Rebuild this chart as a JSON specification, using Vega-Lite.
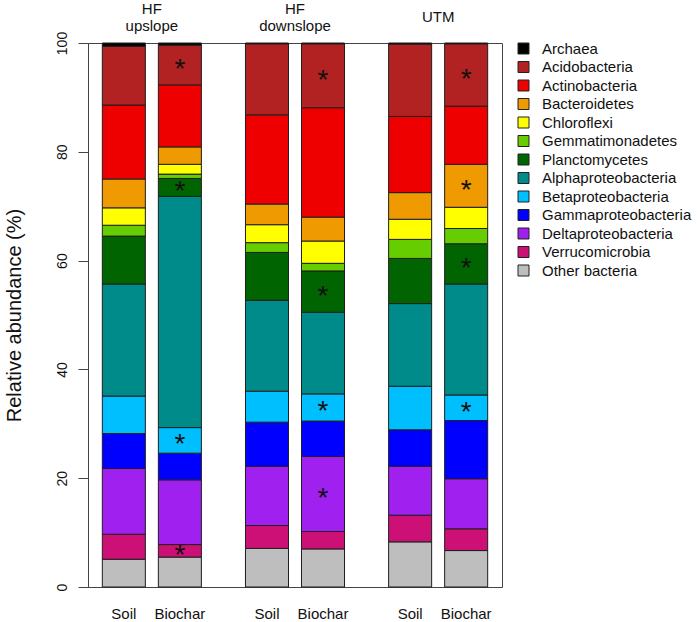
{
  "$schema": "https://vega.github.io/schema/vega-lite/v6.json",
  "width": 414,
  "height": 544,
  "autosize": {"type": "none"},
  "padding": {"left": 88, "top": 43, "right": 195, "bottom": 35},
  "background": "white",
  "config": {
    "font": "Liberation Sans",
    "view": {"stroke": "#444", "strokeWidth": 1},
    "axis": {"labelColor": "#111", "titleColor": "#111", "labelFont": "Liberation Sans", "titleFont": "Liberation Sans"}
  },
  "data": {"values": [
    {"site": "HF upslope", "treat": "Soil", "taxon": "Other bacteria", "pct": 5.1, "sig": ""},
    {"site": "HF upslope", "treat": "Soil", "taxon": "Verrucomicrobia", "pct": 4.6, "sig": ""},
    {"site": "HF upslope", "treat": "Soil", "taxon": "Deltaproteobacteria", "pct": 12.1, "sig": ""},
    {"site": "HF upslope", "treat": "Soil", "taxon": "Gammaproteobacteria", "pct": 6.4, "sig": ""},
    {"site": "HF upslope", "treat": "Soil", "taxon": "Betaproteobacteria", "pct": 6.9, "sig": ""},
    {"site": "HF upslope", "treat": "Soil", "taxon": "Alphaproteobacteria", "pct": 20.6, "sig": ""},
    {"site": "HF upslope", "treat": "Soil", "taxon": "Planctomycetes", "pct": 8.8, "sig": ""},
    {"site": "HF upslope", "treat": "Soil", "taxon": "Gemmatimonadetes", "pct": 2.0, "sig": ""},
    {"site": "HF upslope", "treat": "Soil", "taxon": "Chloroflexi", "pct": 3.2, "sig": ""},
    {"site": "HF upslope", "treat": "Soil", "taxon": "Bacteroidetes", "pct": 5.3, "sig": ""},
    {"site": "HF upslope", "treat": "Soil", "taxon": "Actinobacteria", "pct": 13.6, "sig": ""},
    {"site": "HF upslope", "treat": "Soil", "taxon": "Acidobacteria", "pct": 10.8, "sig": ""},
    {"site": "HF upslope", "treat": "Soil", "taxon": "Archaea", "pct": 0.6, "sig": ""},

    {"site": "HF upslope", "treat": "Biochar", "taxon": "Other bacteria", "pct": 5.5, "sig": ""},
    {"site": "HF upslope", "treat": "Biochar", "taxon": "Verrucomicrobia", "pct": 2.3, "sig": "*"},
    {"site": "HF upslope", "treat": "Biochar", "taxon": "Deltaproteobacteria", "pct": 11.9, "sig": ""},
    {"site": "HF upslope", "treat": "Biochar", "taxon": "Gammaproteobacteria", "pct": 4.9, "sig": ""},
    {"site": "HF upslope", "treat": "Biochar", "taxon": "Betaproteobacteria", "pct": 4.7, "sig": "*"},
    {"site": "HF upslope", "treat": "Biochar", "taxon": "Alphaproteobacteria", "pct": 42.5, "sig": ""},
    {"site": "HF upslope", "treat": "Biochar", "taxon": "Planctomycetes", "pct": 3.3, "sig": "*"},
    {"site": "HF upslope", "treat": "Biochar", "taxon": "Gemmatimonadetes", "pct": 0.8, "sig": ""},
    {"site": "HF upslope", "treat": "Biochar", "taxon": "Chloroflexi", "pct": 1.8, "sig": ""},
    {"site": "HF upslope", "treat": "Biochar", "taxon": "Bacteroidetes", "pct": 3.2, "sig": ""},
    {"site": "HF upslope", "treat": "Biochar", "taxon": "Actinobacteria", "pct": 11.4, "sig": ""},
    {"site": "HF upslope", "treat": "Biochar", "taxon": "Acidobacteria", "pct": 7.3, "sig": "*"},
    {"site": "HF upslope", "treat": "Biochar", "taxon": "Archaea", "pct": 0.4, "sig": ""},

    {"site": "HF downslope", "treat": "Soil", "taxon": "Other bacteria", "pct": 7.1, "sig": ""},
    {"site": "HF downslope", "treat": "Soil", "taxon": "Verrucomicrobia", "pct": 4.2, "sig": ""},
    {"site": "HF downslope", "treat": "Soil", "taxon": "Deltaproteobacteria", "pct": 10.9, "sig": ""},
    {"site": "HF downslope", "treat": "Soil", "taxon": "Gammaproteobacteria", "pct": 8.1, "sig": ""},
    {"site": "HF downslope", "treat": "Soil", "taxon": "Betaproteobacteria", "pct": 5.7, "sig": ""},
    {"site": "HF downslope", "treat": "Soil", "taxon": "Alphaproteobacteria", "pct": 16.7, "sig": ""},
    {"site": "HF downslope", "treat": "Soil", "taxon": "Planctomycetes", "pct": 8.8, "sig": ""},
    {"site": "HF downslope", "treat": "Soil", "taxon": "Gemmatimonadetes", "pct": 1.8, "sig": ""},
    {"site": "HF downslope", "treat": "Soil", "taxon": "Chloroflexi", "pct": 3.3, "sig": ""},
    {"site": "HF downslope", "treat": "Soil", "taxon": "Bacteroidetes", "pct": 3.8, "sig": ""},
    {"site": "HF downslope", "treat": "Soil", "taxon": "Actinobacteria", "pct": 16.4, "sig": ""},
    {"site": "HF downslope", "treat": "Soil", "taxon": "Acidobacteria", "pct": 13.05, "sig": ""},
    {"site": "HF downslope", "treat": "Soil", "taxon": "Archaea", "pct": 0.15, "sig": ""},

    {"site": "HF downslope", "treat": "Biochar", "taxon": "Other bacteria", "pct": 7.0, "sig": ""},
    {"site": "HF downslope", "treat": "Biochar", "taxon": "Verrucomicrobia", "pct": 3.2, "sig": ""},
    {"site": "HF downslope", "treat": "Biochar", "taxon": "Deltaproteobacteria", "pct": 13.8, "sig": "*"},
    {"site": "HF downslope", "treat": "Biochar", "taxon": "Gammaproteobacteria", "pct": 6.5, "sig": ""},
    {"site": "HF downslope", "treat": "Biochar", "taxon": "Betaproteobacteria", "pct": 5.0, "sig": "*"},
    {"site": "HF downslope", "treat": "Biochar", "taxon": "Alphaproteobacteria", "pct": 15.0, "sig": ""},
    {"site": "HF downslope", "treat": "Biochar", "taxon": "Planctomycetes", "pct": 7.6, "sig": "*"},
    {"site": "HF downslope", "treat": "Biochar", "taxon": "Gemmatimonadetes", "pct": 1.4, "sig": ""},
    {"site": "HF downslope", "treat": "Biochar", "taxon": "Chloroflexi", "pct": 4.1, "sig": ""},
    {"site": "HF downslope", "treat": "Biochar", "taxon": "Bacteroidetes", "pct": 4.4, "sig": ""},
    {"site": "HF downslope", "treat": "Biochar", "taxon": "Actinobacteria", "pct": 20.1, "sig": ""},
    {"site": "HF downslope", "treat": "Biochar", "taxon": "Acidobacteria", "pct": 11.75, "sig": "*"},
    {"site": "HF downslope", "treat": "Biochar", "taxon": "Archaea", "pct": 0.15, "sig": ""},

    {"site": "UTM", "treat": "Soil", "taxon": "Other bacteria", "pct": 8.3, "sig": ""},
    {"site": "UTM", "treat": "Soil", "taxon": "Verrucomicrobia", "pct": 4.9, "sig": ""},
    {"site": "UTM", "treat": "Soil", "taxon": "Deltaproteobacteria", "pct": 9.0, "sig": ""},
    {"site": "UTM", "treat": "Soil", "taxon": "Gammaproteobacteria", "pct": 6.7, "sig": ""},
    {"site": "UTM", "treat": "Soil", "taxon": "Betaproteobacteria", "pct": 8.0, "sig": ""},
    {"site": "UTM", "treat": "Soil", "taxon": "Alphaproteobacteria", "pct": 15.2, "sig": ""},
    {"site": "UTM", "treat": "Soil", "taxon": "Planctomycetes", "pct": 8.3, "sig": ""},
    {"site": "UTM", "treat": "Soil", "taxon": "Gemmatimonadetes", "pct": 3.5, "sig": ""},
    {"site": "UTM", "treat": "Soil", "taxon": "Chloroflexi", "pct": 3.7, "sig": ""},
    {"site": "UTM", "treat": "Soil", "taxon": "Bacteroidetes", "pct": 4.9, "sig": ""},
    {"site": "UTM", "treat": "Soil", "taxon": "Actinobacteria", "pct": 14.0, "sig": ""},
    {"site": "UTM", "treat": "Soil", "taxon": "Acidobacteria", "pct": 13.3, "sig": ""},
    {"site": "UTM", "treat": "Soil", "taxon": "Archaea", "pct": 0.2, "sig": ""},

    {"site": "UTM", "treat": "Biochar", "taxon": "Other bacteria", "pct": 6.7, "sig": ""},
    {"site": "UTM", "treat": "Biochar", "taxon": "Verrucomicrobia", "pct": 4.0, "sig": ""},
    {"site": "UTM", "treat": "Biochar", "taxon": "Deltaproteobacteria", "pct": 9.2, "sig": ""},
    {"site": "UTM", "treat": "Biochar", "taxon": "Gammaproteobacteria", "pct": 10.7, "sig": ""},
    {"site": "UTM", "treat": "Biochar", "taxon": "Betaproteobacteria", "pct": 4.7, "sig": "*"},
    {"site": "UTM", "treat": "Biochar", "taxon": "Alphaproteobacteria", "pct": 20.4, "sig": ""},
    {"site": "UTM", "treat": "Biochar", "taxon": "Planctomycetes", "pct": 7.4, "sig": "*"},
    {"site": "UTM", "treat": "Biochar", "taxon": "Gemmatimonadetes", "pct": 2.8, "sig": ""},
    {"site": "UTM", "treat": "Biochar", "taxon": "Chloroflexi", "pct": 3.9, "sig": ""},
    {"site": "UTM", "treat": "Biochar", "taxon": "Bacteroidetes", "pct": 7.9, "sig": "*"},
    {"site": "UTM", "treat": "Biochar", "taxon": "Actinobacteria", "pct": 10.7, "sig": ""},
    {"site": "UTM", "treat": "Biochar", "taxon": "Acidobacteria", "pct": 11.45, "sig": "*"},
    {"site": "UTM", "treat": "Biochar", "taxon": "Archaea", "pct": 0.15, "sig": ""}
  ]},
  "transform": [
    {"calculate": "indexof(['Other bacteria','Verrucomicrobia','Deltaproteobacteria','Gammaproteobacteria','Betaproteobacteria','Alphaproteobacteria','Planctomycetes','Gemmatimonadetes','Chloroflexi','Bacteroidetes','Actinobacteria','Acidobacteria','Archaea'], datum.taxon)", "as": "ord"},
    {"stack": "pct", "groupby": ["site", "treat"], "sort": [{"field": "ord", "order": "ascending"}], "as": ["y0", "y1"]},
    {"calculate": "(datum.y0 + datum.y1) / 2", "as": "mid"}
  ],
  "encoding": {
    "x": {
      "field": "site", "type": "nominal",
      "sort": ["HF upslope", "HF downslope", "UTM"],
      "scale": {"paddingInner": 0.308, "paddingOuter": 0.1},
      "axis": {
        "orient": "top", "title": null, "domain": false, "ticks": false, "tickSize": 0,
        "labelAngle": 0, "labelFontSize": 15, "labelBaseline": "middle",
        "labelPadding": {"condition": {"test": "datum.value == 'UTM'", "value": 27}, "value": 35},
        "labelLineHeight": 17, "labelExpr": "split(datum.label, ' ')", "labelColor": "#111"
      }
    },
    "xOffset": {
      "field": "treat", "type": "nominal",
      "sort": ["Soil", "Biochar"],
      "scale": {"paddingInner": 0.232, "paddingOuter": 0}
    }
  },
  "layer": [
    {
      "mark": {"type": "bar", "stroke": "#1e1e1e", "strokeWidth": 1},
      "encoding": {
        "y": {
          "field": "y0", "type": "quantitative", "title": "Relative abundance (%)",
          "scale": {"domain": [0, 100], "nice": false, "zero": true},
          "axis": {
            "values": [0, 20, 40, 60, 80, 100],
            "grid": false, "domainColor": "#444", "tickColor": "#444", "tickSize": 10,
            "labelAngle": -90, "labelAlign": "center", "labelBaseline": "alphabetic",
            "labelPadding": 12, "labelFontSize": 14,
            "titleFontSize": 20, "titleFontWeight": "normal", "titleAngle": -90,
            "titleAlign": "center", "titleBaseline": "alphabetic", "titleX": -68, "titleY": 272
          }
        },
        "y2": {"field": "y1"},
        "color": {
          "field": "taxon", "type": "nominal",
          "scale": {
            "domain": ["Archaea", "Acidobacteria", "Actinobacteria", "Bacteroidetes", "Chloroflexi", "Gemmatimonadetes", "Planctomycetes", "Alphaproteobacteria", "Betaproteobacteria", "Gammaproteobacteria", "Deltaproteobacteria", "Verrucomicrobia", "Other bacteria"],
            "range": ["#000000", "#B22222", "#EE0000", "#EE9A00", "#FFFF00", "#66CD00", "#006400", "#008B8B", "#00BFFF", "#0000FF", "#A020F0", "#CD1076", "#BEBEBE"]
          },
          "legend": {
            "title": null, "orient": "none", "legendX": 428, "legendY": -2,
            "symbolType": "square", "symbolSize": 121, "symbolStrokeColor": "#222", "symbolStrokeWidth": 1,
            "symbolOpacity": 1, "labelFontSize": 15, "labelOffset": 11, "rowPadding": 2.5,
            "labelColor": "#111", "labelLimit": 300, "padding": 0
          }
        },
        "order": {"field": "ord", "type": "quantitative"}
      }
    },
    {
      "transform": [{"filter": "datum.sig == '*'"}],
      "mark": {"type": "text", "text": "*", "fontSize": 28, "baseline": "alphabetic", "dy": 13, "color": "#111"},
      "encoding": {
        "y": {"field": "mid", "type": "quantitative", "title": "Relative abundance (%)"}
      }
    },
    {
      "transform": [{"filter": "datum.taxon == 'Other bacteria'"}],
      "mark": {"type": "text", "fontSize": 15, "baseline": "middle", "dy": 27, "color": "#111"},
      "encoding": {
        "y": {"datum": 0, "type": "quantitative", "title": "Relative abundance (%)"},
        "text": {"field": "treat"}
      }
    }
  ]
}
